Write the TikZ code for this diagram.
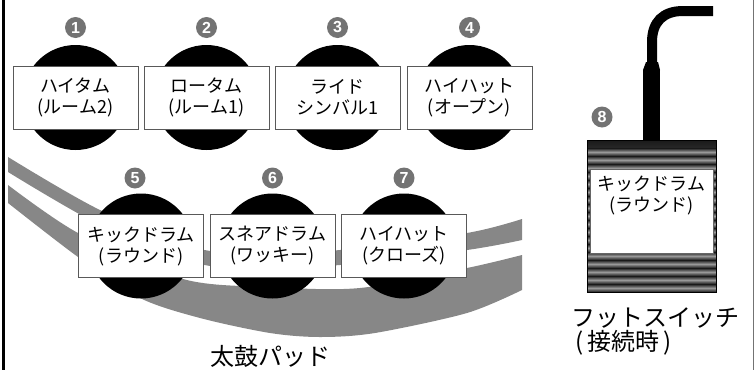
\documentclass[tikz,border=0pt]{standalone}
\usepackage{fontspec}
\newfontfamily\jp{Noto Sans CJK JP}
\newfontfamily\numfont{Liberation Sans}
\usetikzlibrary{positioning}

\tikzset{
    pad/.style={
           circle,
           fill=black,
           minimum size=105pt,
           inner sep=0pt,
           },
    padlabel/.style={
           rectangle,
           draw=black!65, line width=0.8pt,
           fill=white,
           minimum width=125pt, minimum height=63pt,
           align=center,
           font=\jp\fontsize{18}{21}\selectfont,
           },
    badge/.style={
           circle,
           fill=black!55,
           text=white,
           minimum size=21pt, inner sep=0pt,
           font=\numfont\bfseries\fontsize{16}{16}\selectfont,
           },
    rim/.style={fill=black!47},
    stripe/.style={top color=black!90, bottom color=black!90, middle color=black!40},
    switchbox/.style={
           rectangle,
           draw=black, line width=0.8pt,
           minimum width=129pt, minimum height=152pt,
           inner sep=0pt,
           path picture={
               \foreach \k in {0,...,18}
                   \shade[stripe] ([yshift=-\k*8pt]path picture bounding box.north west)
                         rectangle ([yshift=-\k*8pt-8pt]path picture bounding box.north east);
           },
           },
    caption/.style={font=\jp\fontsize{24}{28}\selectfont},
}

\begin{document}
\begin{tikzpicture}[x=1pt,y=-1pt]
\useasboundingbox (0,0) rectangle (755,370);

       % rim of the pad
       \fill[rim] plot[smooth] coordinates {(8,157) (100,210) (200,249) (270,252) (340,250) (467,233) (522,219)}
             -- plot[smooth] coordinates {(522,240) (467,250) (340,265) (270,267) (200,264) (100,225) (8,172)} -- cycle;
       \fill[rim] plot[smooth] coordinates {(8,185) (78,233) (183,279) (270,287) (360,288) (467,268) (522,255)}
             -- plot[smooth] coordinates {(522,290) (467,313) (375,333) (320,337) (270,333) (200,318) (140,298) (78,257) (8,203)} -- cycle;

       % upper row
       \node[pad] (P1) at (75.5,97.5) {};
       \node[padlabel] (L1) at (P1) {ハイタム\\(ルーム2)};
       \node[badge] (B1) at ([yshift=70pt]P1) {1};

       \node[pad] (P2) at (206.5,97.5) {};
       \node[padlabel] (L2) at (P2) {ロータム\\(ルーム1)};
       \node[badge] (B2) at ([yshift=70pt]P2) {2};

       \node[pad] (P3) at (337.5,97.5) {};
       \node[padlabel] (L3) at (P3) {ライド\\シンバル1};
       \node[badge] (B3) at ([yshift=70pt]P3) {3};

       \node[pad] (P4) at (469.5,97.5) {};
       \node[padlabel] (L4) at (P4) {ハイハット\\(オープン)};
       \node[badge] (B4) at ([yshift=70pt]P4) {4};

       % lower row
       \node[pad] (P5) at (141,246) {};
       \node[padlabel] (L5) at (P5) {キックドラム\\(ラウンド)};
       \node[badge] (B5) at ([xshift=-6pt,yshift=68pt]P5) {5};

       \node[pad] (P6) at (272.5,246) {};
       \node[padlabel] (L6) at (P6) {スネアドラム\\(ワッキー)};
       \node[badge] (B6) at ([yshift=68pt]P6) {6};

       \node[pad] (P7) at (404,246) {};
       \node[padlabel] (L7) at (P7) {ハイハット\\(クローズ)};
       \node[badge] (B7) at ([yshift=68pt]P7) {7};

       \node[caption] (PADNAME) at (270,356) {太鼓パッド};

       % foot switch
       \node[switchbox] (SWITCH) at (651.5,216) {};
       \node[fill=white, draw=black!60, minimum width=123pt, minimum height=84pt] (SWLABEL) at (651.5,211) {};
       \node[below=4pt of SWLABEL.north, align=center, font=\jp\fontsize{18}{21}\selectfont] (SWTEXT) {キックドラム\\(ラウンド)};
       \node[badge] (B8) at (602,117) {8};

       \coordinate (PLUG) at (713,11);
       \draw[line width=17pt] (SWITCH.north) -- ++(0,-70);
       \fill (643,70) -- (660,70) -- (658,62) -- (646,62) -- cycle;
       \draw[line width=10pt] (652,64) -- (652,42) .. controls (652,22) and (663,11) .. (683,11) -- (PLUG);

       \node[caption] (SWNAME) at (655,318) {フットスイッチ};
       \node[caption, anchor=west] (SWNOTE) at (572,343) {(\,接続時\,)};

       % frame
       \draw[line width=3pt] (3.5,0) -- (3.5,370);
       \draw[black!55, line width=1pt] (753.5,0) -- (753.5,370);

\end{tikzpicture}
\end{document}
